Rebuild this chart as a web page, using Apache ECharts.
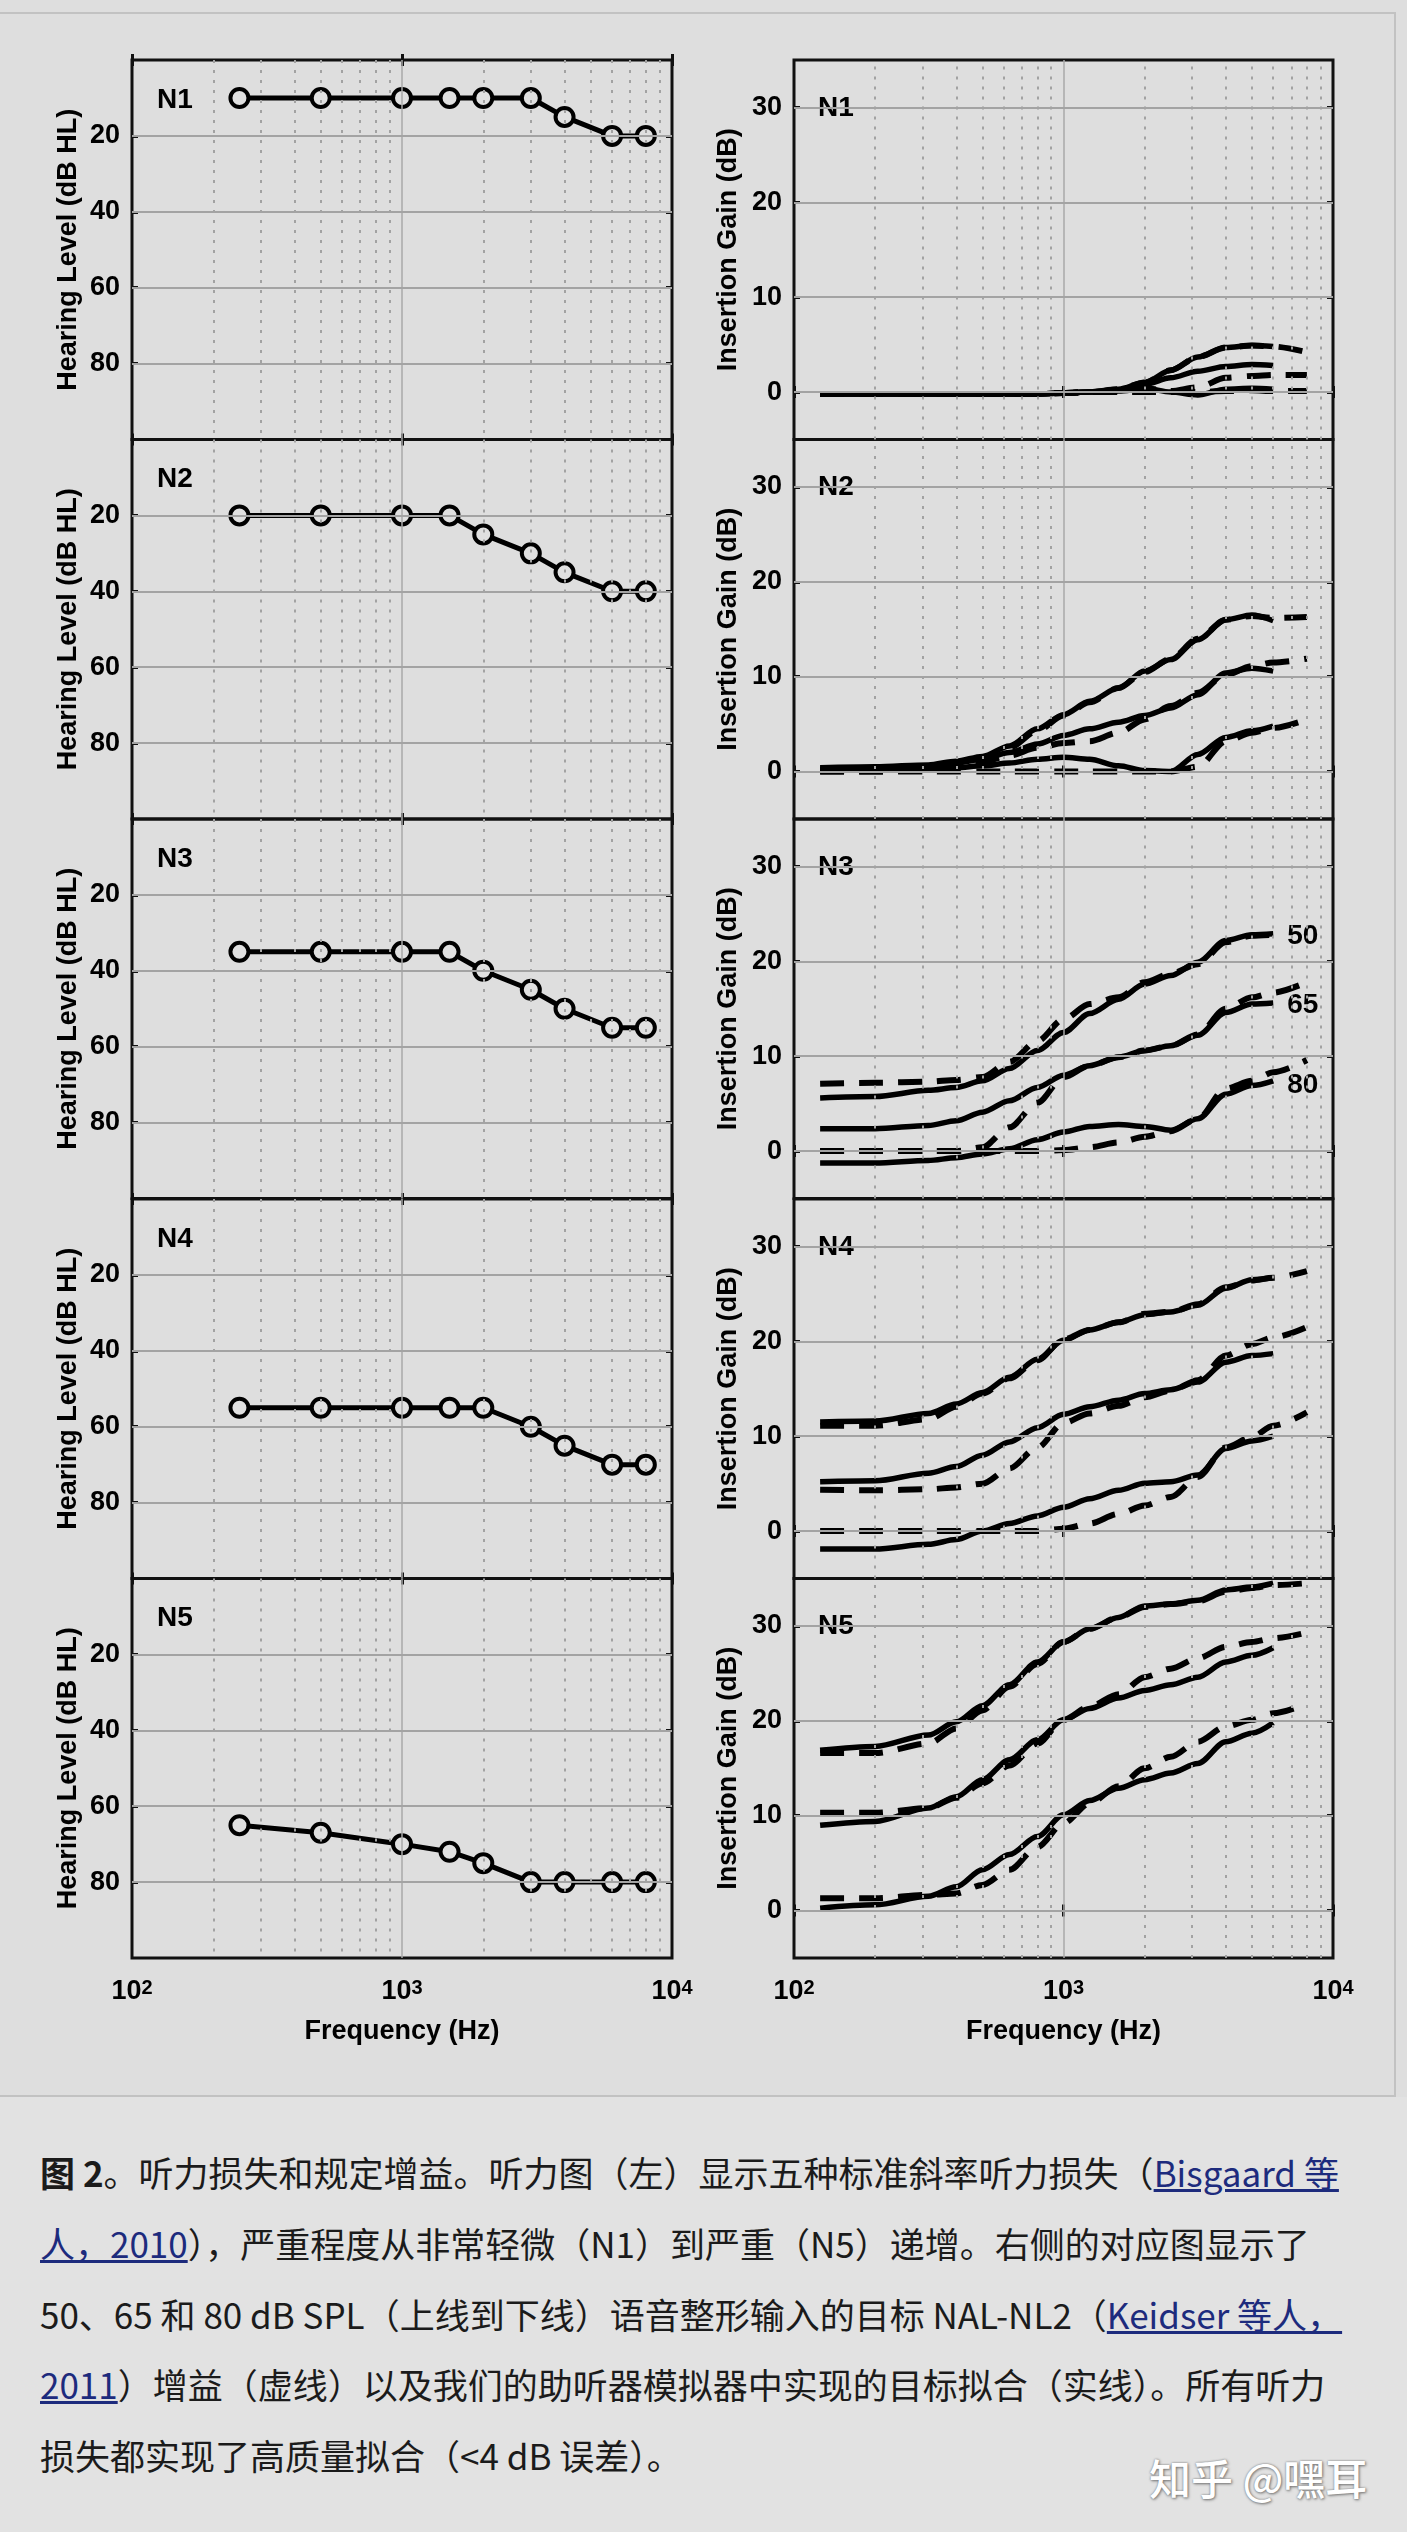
<!DOCTYPE html>
<html>
<head>
<meta charset="utf-8">
<script src="https://cdn.jsdelivr.net/npm/echarts@6/dist/echarts.min.js"></script>
<style>
html,body{margin:0;padding:0;background:#dedede;}
body{width:1407px;height:2532px;position:relative;overflow:hidden;}
#frame{position:absolute;left:-3px;top:12px;width:1399px;height:2085px;border:2px solid #c2c2c2;box-sizing:border-box;}
#chart{position:absolute;left:0;top:0;width:1407px;height:2096px;}
#caption{position:absolute;left:0;top:2097px;width:1407px;height:435px;background:#e2e2e2;
  font-family:"Noto Sans CJK SC","Noto Sans",sans-serif;font-size:35px;line-height:70.75px;color:#1b1b1b;
  padding-top:40px;box-sizing:border-box;}
.ln{margin-left:40px;white-space:nowrap;}
#caption a{color:#1d2b7d;text-decoration:underline;}
#wm{position:absolute;left:1149px;top:2446px;font-family:"Noto Sans CJK SC",sans-serif;font-size:42px;font-weight:500;
  color:#ffffff;text-shadow:0 0 2px #7a7a7a,1px 1px 3px #777;}
</style>
</head>
<body>
<div id="frame"></div>
<div id="chart"></div>
<div id="caption">
  <div class="ln"><b>图 2</b>。听力损失和规定增益。听力图（左）显示五种标准斜率听力损失（<a>Bisgaard 等</a></div>
  <div class="ln"><a>人，2010</a>），严重程度从非常轻微（N1）到严重（N5）递增。右侧的对应图显示了</div>
  <div class="ln">50、65 和 80 dB SPL（上线到下线）语音整形输入的目标 NAL-NL2（<a>Keidser 等人，</a></div>
  <div class="ln"><a>2011</a>）增益（虚线）以及我们的助听器模拟器中实现的目标拟合（实线）。所有听力</div>
  <div class="ln">损失都实现了高质量拟合（&lt;4 dB 误差）。</div>
</div>
<div id="wm">知乎 @嘿耳</div>
<script>
// ---------- DATA ----------
const PANEL_NAMES = ['N1','N2','N3','N4','N5'];
const FREQ_AUDIO = [250,500,1000,1500,2000,3000,4000,6000,8000];
const HL_N1 = [10,10,10,10,10,10,15,20,20];
const HL_N2 = [20,20,20,20,25,30,35,40,40];
const HL_N3 = [35,35,35,35,40,45,50,55,55];
const HL_N4 = [55,55,55,55,55,60,65,70,70];
const HL_N5 = [65,67,70,72,75,80,80,80,80];

const FREQ_GAIN = [125,200,315,400,500,630,800,1000,1250,1600,2000,2500,3150,4000,5000,6000,8000];

const N1_FIT_50 = [-0.2,-0.2,-0.2,-0.2,-0.2,-0.2,-0.2,-0.1,0.0,0.3,1.0,2.3,3.7,4.7,4.9,4.8];
const N1_TGT_50 = [-0.2,-0.2,-0.2,-0.2,-0.2,-0.2,-0.2,-0.1,0.0,0.3,1.0,2.3,3.7,4.7,4.9,4.8,4.2];
const N1_FIT_65 = [-0.2,-0.2,-0.2,-0.2,-0.2,-0.2,-0.2,-0.1,0.0,0.2,0.8,1.5,2.2,2.7,2.9,2.8];
const N1_TGT_65 = [-0.2,-0.2,-0.2,-0.2,-0.2,-0.2,-0.2,-0.1,0.0,0.1,0.4,0.1,0.5,1.5,1.7,1.8,1.8];
const N1_FIT_80 = [-0.2,-0.2,-0.2,-0.2,-0.2,-0.2,-0.2,-0.1,0.0,0.1,0.4,0.0,-0.3,0.3,0.4,0.3];
const N1_TGT_80 = [-0.2,-0.2,-0.2,-0.2,-0.2,-0.2,-0.2,-0.1,0.0,0.0,0.0,0.0,0.0,0.1,0.2,0.1,0.1];

const N2_FIT_50 = [0.4,0.5,0.7,1.1,1.6,2.7,4.5,6.0,7.4,8.8,10.6,11.8,13.9,16.0,16.5,15.9];
const N2_TGT_50 = [0.2,0.3,0.5,0.9,1.4,2.5,4.3,5.9,7.3,8.8,10.5,11.9,14.0,16.0,16.4,16.2,16.3];
const N2_FIT_65 = [0.25,0.3,0.5,0.9,1.3,2.0,2.9,3.8,4.5,5.2,5.9,6.7,8.1,10.4,10.9,10.6];
const N2_TGT_65 = [0.0,0.0,0.2,0.5,1.0,1.7,2.5,3.0,3.2,4.1,5.5,6.9,8.3,10.2,11.1,11.5,11.9];
const N2_FIT_80 = [0.1,0.2,0.3,0.4,0.6,0.9,1.3,1.5,1.3,0.6,0.1,0.0,1.8,3.6,4.3,4.8];
const N2_TGT_80 = [0.0,0.0,0.0,0.0,0.0,0.0,0.0,0.0,0.0,0.0,0.0,0.0,0.5,3.2,4.1,4.6,5.5];

const N3_FIT_50 = [5.6,5.75,6.4,6.7,7.4,8.7,10.6,12.5,14.5,16.0,17.6,18.5,19.9,22.2,22.8,22.9];
const N3_TGT_50 = [7.1,7.2,7.3,7.5,7.8,9.4,11.6,13.9,15.5,16.2,17.8,18.7,19.7,22.0,22.7,22.8,null];
const N3_FIT_65 = [2.35,2.35,2.7,3.2,4.1,5.3,6.7,8.0,9.0,9.9,10.6,11.1,12.2,14.6,15.5,15.6];
const N3_TGT_65 = [0.0,0.0,0.0,0.0,0.4,2.5,5.1,7.8,9.0,9.9,10.6,11.1,12.3,15.0,16.2,16.7,17.8];
const N3_FIT_80 = [-1.26,-1.26,-1.0,-0.7,-0.3,0.25,1.2,2.0,2.6,2.8,2.6,2.2,3.4,6.0,6.9,7.4];
const N3_TGT_80 = [0.0,0.0,0.0,0.0,0.0,0.0,0.0,0.1,0.4,0.9,1.5,2.1,3.4,6.6,7.4,8.3,9.6];

const N4_FIT_50 = [11.5,11.6,12.4,13.4,14.6,16.2,18.1,20.1,21.2,22.0,22.8,23.1,23.8,25.6,26.5,26.7];
const N4_TGT_50 = [11.1,11.1,11.8,13.1,14.5,16.1,18.0,20.2,21.2,22.0,22.9,23.1,23.9,25.7,26.4,26.7,27.4];
const N4_FIT_65 = [5.2,5.3,6.1,6.8,8.0,9.4,10.9,12.3,13.1,13.8,14.5,14.9,15.7,17.8,18.5,18.7];
const N4_TGT_65 = [4.35,4.3,4.4,4.6,5.0,6.6,8.8,11.4,12.4,13.2,14.1,14.8,15.9,18.5,19.7,20.4,21.5];
const N4_FIT_80 = [-1.9,-1.9,-1.4,-0.9,0.0,0.8,1.6,2.5,3.4,4.3,5.05,5.2,5.9,8.7,9.5,10.0];
const N4_TGT_80 = [0.0,0.0,0.0,0.0,0.0,0.0,0.0,0.25,0.8,1.8,2.7,3.6,5.7,8.8,9.9,11.1,12.5];

const N5_FIT_50 = [16.9,17.3,18.5,19.9,21.6,23.8,26.2,28.3,29.7,30.9,32.1,32.3,32.7,33.8,34.1,34.5];
const N5_TGT_50 = [16.6,16.6,17.6,19.2,21.1,23.6,26.0,28.3,29.7,30.9,32.0,32.3,32.6,33.6,34.0,34.3,34.5];
const N5_FIT_65 = [9.0,9.4,10.8,12.0,13.8,15.9,18.0,20.1,21.3,22.4,23.2,23.8,24.6,26.2,26.9,27.7];
const N5_TGT_65 = [10.3,10.3,10.8,11.9,13.4,15.3,17.6,20.1,21.5,22.8,24.6,25.5,26.6,27.8,28.3,28.7,29.3];
const N5_FIT_80 = [0.25,0.6,1.5,2.5,4.3,5.9,7.8,10.1,11.6,12.9,13.8,14.5,15.5,17.8,18.7,19.8];
const N5_TGT_80 = [1.3,1.3,1.65,1.8,2.7,4.3,6.7,9.2,11.3,13.1,15.0,16.2,17.8,19.4,20.1,20.8,21.8];

const LEVEL_LABELS = ['50','65','80'];
const HL_TICKS = [20,40,60,80];
const GAIN_TICKS = [0,10,20,30];
const X_GRID_MINOR = [200,300,400,500,600,700,800,900,2000,3000,4000,5000,6000,7000,8000,9000];
const X_GRID_MAJOR = [1000];

// ---------- LAYOUT ----------
const HL_ROWS = [HL_N1,HL_N2,HL_N3,HL_N4,HL_N5];
const FIT_ROWS = [[N1_FIT_50,N1_FIT_65,N1_FIT_80],[N2_FIT_50,N2_FIT_65,N2_FIT_80],[N3_FIT_50,N3_FIT_65,N3_FIT_80],[N4_FIT_50,N4_FIT_65,N4_FIT_80],[N5_FIT_50,N5_FIT_65,N5_FIT_80]];
const TGT_ROWS = [[N1_TGT_50,N1_TGT_65,N1_TGT_80],[N2_TGT_50,N2_TGT_65,N2_TGT_80],[N3_TGT_50,N3_TGT_65,N3_TGT_80],[N4_TGT_50,N4_TGT_65,N4_TGT_80],[N5_TGT_50,N5_TGT_65,N5_TGT_80]];

const FONT = '"Liberation Sans", Arial, Helvetica, sans-serif';
const COL_LEFT = [132, 794];
const COL_W = [540, 539];
const ROW_TOP = [60, 439.5, 819, 1199, 1578.5];
const ROW_H = 379.5;
const BG = '#e0e0e0';

const grids = [], xAxes = [], yAxes = [], series = [], graphics = [];

function pairs(xs, ys) {
  const out = [];
  for (let i = 0; i < ys.length; i++) if (ys[i] != null) out.push([xs[i], ys[i]]);
  return out;
}

function gridLineSeries(gi, hTicks) {
  const d = [];
  X_GRID_MINOR.forEach(v => d.push({xAxis: v, lineStyle: {type: [3, 7], color: '#a2a2a2', width: 2}}));
  X_GRID_MAJOR.forEach(v => d.push({xAxis: v, lineStyle: {type: 'solid', color: '#a8a8a8', width: 1.5}}));
  hTicks.forEach(v => d.push({yAxis: v, lineStyle: {type: 'solid', color: '#a3a3a3', width: 2}}));
  return {
    type: 'line', xAxisIndex: gi * 2, yAxisIndex: gi * 2, data: [], silent: true, z: 1,
    markLine: {silent: true, symbol: ['none', 'none'], label: {show: false}, animation: false, data: d}
  };
}

for (let r = 0; r < 5; r++) {
  for (let c = 0; c < 2; c++) {
    const gi = r * 2 + c;
    const bottom = r === 4;
    grids.push({left: COL_LEFT[c], top: ROW_TOP[r], width: COL_W[c], height: ROW_H,
      show: true, borderColor: '#111', borderWidth: 3, backgroundColor: 'transparent', containLabel: false});
    const xBase = {
      type: 'log', logBase: 10, min: 100, max: 10000, gridIndex: gi,
      axisLine: {show: false}, splitLine: {show: false},
      axisTick: {show: true, inside: true, length: 6, lineStyle: {color: '#111', width: 3}}
    };
    xAxes.push(Object.assign({}, xBase, {
      position: 'bottom',
      axisLabel: bottom ? {
        show: true, margin: 20,
        formatter: v => '{b|10}{s|' + Math.round(Math.log10(v)) + '}',
        rich: {
          b: {fontSize: 27, fontWeight: 'bold', fontFamily: FONT, color: '#000'},
          s: {fontSize: 20, fontWeight: 'bold', fontFamily: FONT, color: '#000', verticalAlign: 'top'}
        }
      } : {show: false},
      name: bottom ? 'Frequency (Hz)' : '', nameLocation: 'middle', nameGap: 60,
      nameTextStyle: {fontSize: 27, fontWeight: 'bold', fontFamily: FONT, color: '#000'}
    }));
    xAxes.push(Object.assign({}, xBase, {position: 'top', axisLabel: {show: false}}));

    const isHL = c === 0;
    const yCommon = isHL ? {
      type: 'value', min: 0, max: 100, interval: 20, inverse: true
    } : {
      type: 'value', min: -5, max: 35, interval: 5
    };
    const ticks = isHL ? HL_TICKS : GAIN_TICKS;
    yAxes.push(Object.assign({}, yCommon, {
      gridIndex: gi, position: 'left',
      axisLine: {show: false}, splitLine: {show: false},
      axisTick: {show: true, inside: true, length: 6, lineStyle: {color: '#111', width: 3}, customValues: ticks},
      axisLabel: {show: true, margin: 12, customValues: ticks,
        formatter: v => (ticks.indexOf(v) >= 0 ? String(v) : ''),
        fontSize: 27, fontWeight: 'bold', fontFamily: FONT, color: '#000'},
      name: isHL ? 'Hearing Level (dB HL)' : 'Insertion Gain (dB)',
      nameLocation: 'middle', nameGap: isHL ? 50 : 52,
      nameTextStyle: {fontSize: 27, fontWeight: 'bold', fontFamily: FONT, color: '#000'}
    }));
    yAxes.push(Object.assign({}, yCommon, {
      gridIndex: gi, position: 'right',
      axisLine: {show: false}, splitLine: {show: false},
      axisTick: {show: true, inside: true, length: 6, lineStyle: {color: '#111', width: 3}, customValues: ticks},
      axisLabel: {show: false}
    }));

    series.push(gridLineSeries(gi, ticks));

    if (isHL) {
      series.push({
        type: 'line', xAxisIndex: gi * 2, yAxisIndex: gi * 2, z: 3,
        data: pairs(FREQ_AUDIO, HL_ROWS[r]),
        symbol: 'circle', symbolSize: 18,
        lineStyle: {color: '#000', width: 5},
        itemStyle: {color: BG, borderColor: '#000', borderWidth: 4}
      });
    } else {
      TGT_ROWS[r].forEach(arr => series.push({
        type: 'line', xAxisIndex: gi * 2, yAxisIndex: gi * 2, z: 3,
        data: pairs(FREQ_GAIN, arr), symbol: 'none', smooth: 0.3, smoothMonotone: 'x',
        lineStyle: {color: '#000', width: 6, type: [24, 15], cap: 'butt'}
      }));
      FIT_ROWS[r].forEach((arr, k) => series.push({
        type: 'line', xAxisIndex: gi * 2, yAxisIndex: gi * 2, z: 4,
        data: pairs(FREQ_GAIN, arr), symbol: 'none', smooth: 0.3, smoothMonotone: 'x',
        lineStyle: {color: '#000', width: 5.5},
        endLabel: r === 2 ? {show: true, formatter: LEVEL_LABELS[k], distance: 14, offset: [0, k === 2 ? 4 : 2],
          fontSize: 28, fontWeight: 'bold', fontFamily: FONT, color: '#000'} : {show: false}
      }));
    }

    graphics.push({
      type: 'text', left: COL_LEFT[c] + (isHL ? 25 : 24), top: ROW_TOP[r] + (isHL ? 26 : 34),
      style: {text: PANEL_NAMES[r], fontSize: 28, fontWeight: 'bold', fontFamily: FONT, fill: '#000'}
    });
  }
}

const chart = echarts.init(document.getElementById('chart'), null, {renderer: 'canvas'});
chart.setOption({
  animation: false,
  backgroundColor: 'transparent',
  grid: grids, xAxis: xAxes, yAxis: yAxes, series: series, graphic: graphics
});
</script>
</body>
</html>
